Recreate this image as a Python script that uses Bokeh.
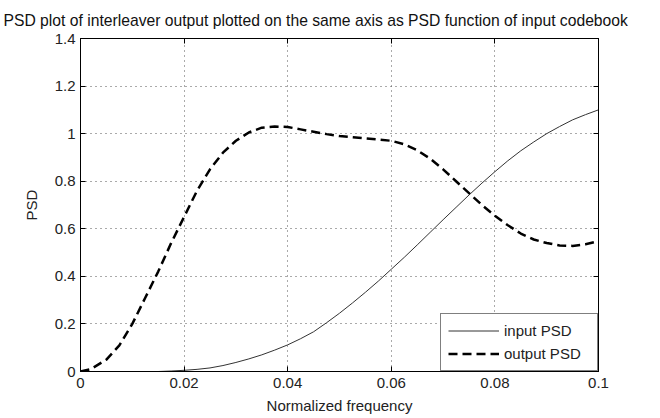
from bokeh.plotting import figure
from bokeh.models import LinearAxis, Range1d, FixedTicker, Legend, LegendItem
from bokeh.embed import file_html
from bokeh.resources import INLINE

freq = [0.0, 0.002, 0.005, 0.0075, 0.01, 0.0125, 0.015, 0.0175, 0.02, 0.0225, 0.025, 0.0275,
        0.03, 0.0325, 0.035, 0.0375, 0.04, 0.0425, 0.045, 0.0475, 0.05, 0.0525, 0.055, 0.0575,
        0.06, 0.0625, 0.065, 0.0675, 0.07, 0.0725, 0.075, 0.0775, 0.08, 0.0825, 0.085, 0.0875,
        0.09, 0.0925, 0.095, 0.0975, 0.1]
input_psd = [0.0, 0.0, 0.0, 0.0, 0.0, 0.0, 0.0, 0.002, 0.005, 0.009, 0.015, 0.025,
             0.038, 0.053, 0.07, 0.09, 0.112, 0.138, 0.167, 0.205, 0.245, 0.288, 0.333, 0.38,
             0.43, 0.48, 0.532, 0.585, 0.638, 0.69, 0.742, 0.792, 0.84, 0.886, 0.928, 0.965,
             1.0, 1.03, 1.058, 1.08, 1.1]
output_psd = [0.0, 0.01, 0.05, 0.11, 0.2, 0.31, 0.42, 0.54, 0.65, 0.76, 0.85, 0.92,
              0.97, 1.005, 1.025, 1.03, 1.028, 1.018, 1.008, 0.998, 0.99, 0.985, 0.98, 0.975,
              0.97, 0.955, 0.93, 0.895, 0.85, 0.8, 0.75, 0.7, 0.655, 0.615, 0.58, 0.555,
              0.54, 0.53, 0.528, 0.535, 0.548]

x_ticks = [0, 0.02, 0.04, 0.06, 0.08, 0.1]
y_ticks = [0, 0.2, 0.4, 0.6, 0.8, 1.0, 1.2, 1.4]
x_labels = {0: "0", 0.02: "0.02", 0.04: "0.04", 0.06: "0.06", 0.08: "0.08", 0.1: "0.1"}
y_labels = {0: "0", 0.2: "0.2", 0.4: "0.4", 0.6: "0.6", 0.8: "0.8", 1.0: "1", 1.2: "1.2", 1.4: "1.4"}

FONT = "Liberation Sans"
FS = "15px"

p = figure(width=644, height=416, output_backend="svg", toolbar_location=None,
           x_range=Range1d(0, 0.1), y_range=Range1d(0, 1.4),
           min_border_left=80, min_border_right=46, min_border_top=37, min_border_bottom=44,
           title="PSD plot of interleaver output plotted on the same axis as PSD function of input codebook")
p.title.text_font = FONT
p.title.text_font_size = "15.7px"
p.title.text_font_style = "normal"
p.title.text_color = "#111111"
p.title.align = "left"
p.title.offset = -77
p.title.standoff = 19

p.background_fill_color = "white"
p.border_fill_color = "white"
p.outline_line_color = "black"
p.outline_line_width = 1

for ax, ticks, labels in ((p.xaxis[0], x_ticks, x_labels), (p.yaxis[0], y_ticks, y_labels)):
    ax.ticker = FixedTicker(ticks=ticks)
    ax.major_label_overrides = labels
    ax.major_tick_in = 5
    ax.major_tick_out = 0
    ax.minor_tick_line_color = None
    ax.axis_line_color = "black"
    ax.major_tick_line_color = "black"
    ax.major_label_text_font = FONT
    ax.major_label_text_font_size = FS
    ax.major_label_text_color = "#222222"
    ax.axis_label_text_font = FONT
    ax.axis_label_text_font_size = FS
    ax.axis_label_text_font_style = "normal"
    ax.axis_label_text_color = "#222222"

p.xaxis[0].axis_label = "Normalized frequency"
p.xaxis[0].axis_label_standoff = 6
p.xaxis[0].major_label_standoff = 6
p.yaxis[0].axis_label = "PSD"
p.yaxis[0].axis_label_standoff = 12
p.yaxis[0].major_label_standoff = 5

top = LinearAxis(ticker=FixedTicker(ticks=x_ticks), major_tick_in=5, major_tick_out=0,
                 minor_tick_line_color=None, axis_line_color="black",
                 major_label_overrides={t: "" for t in x_ticks})
right = LinearAxis(ticker=FixedTicker(ticks=y_ticks), major_tick_in=5, major_tick_out=0,
                   minor_tick_line_color=None, axis_line_color="black",
                   major_label_overrides={t: "" for t in y_ticks})
p.add_layout(top, "above")
p.add_layout(right, "right")

p.xgrid.ticker = FixedTicker(ticks=x_ticks)
p.ygrid.ticker = FixedTicker(ticks=y_ticks)
for g in (p.xgrid[0], p.ygrid[0]):
    g.grid_line_color = "#555555"
    g.grid_line_dash = "1 4"
    g.grid_line_width = 1

r_in = p.line(freq, input_psd, line_color="#333333", line_width=1)
r_out = p.line(freq, output_psd, line_color="black", line_width=2.5, line_dash="9 5")

legend = Legend(items=[LegendItem(label="input PSD", renderers=[r_in]),
                       LegendItem(label="output PSD", renderers=[r_out])],
                location="bottom_right", margin=0, padding=7, spacing=4,
                label_text_font=FONT, label_text_font_size=FS,
                label_text_color="#222222", glyph_width=51, glyph_height=19,
                label_standoff=5, label_height=19, label_width=86,
                border_line_color="black", border_line_width=1,
                background_fill_alpha=1.0)
p.add_layout(legend)

open("out.html", "w").write(file_html(p, INLINE))
